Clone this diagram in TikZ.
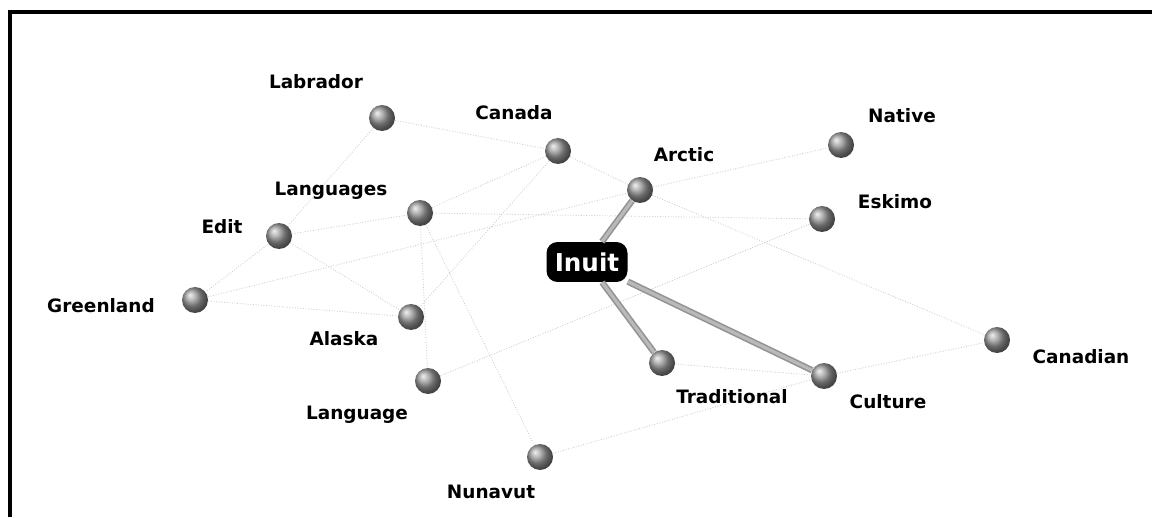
\documentclass[tikz,border=0pt]{standalone}
\usepackage{fontspec}
\setmainfont{DejaVu Sans}
\usepackage{xcolor}
\usepackage{tikz}
\usetikzlibrary{backgrounds}

\begin{document}
\begin{tikzpicture}[
    x=0.02cm,y=-0.02cm,
    ball/.style={circle,minimum size=0.52cm,inner sep=0pt,shading=ball,ball color=gray!80},
    lbl/.style={font=\fontsize{10.5}{12}\selectfont\bfseries,inner sep=1pt},
    hub/.style={fill=black,text=white,rounded corners=0.22cm,minimum width=1.62cm,
                minimum height=0.8cm,inner sep=2pt,font=\fontsize{14}{16}\selectfont\bfseries},
    weak/.style={gray!40,densely dotted,line width=0.5pt},
    strong/.style={draw=gray!85,double=gray!55,double distance=1.8pt,line width=0.9pt}
  ]
  \useasboundingbox (0,0) rectangle (1152,517);
  \draw[line width=2.2pt] (10,517) -- (10,12) -- (1152,12);
  % Terms
  \node[hub] (inu) at (587,262) {Inuit};
  \node[ball] (lab) at (382,118) {};
  \node[ball] (can) at (558,151) {};
  \node[ball] (arc) at (640,190) {};
  \node[ball] (nat) at (841,145) {};
  \node[ball] (esk) at (822,219) {};
  \node[ball] (lgs) at (420,213) {};
  \node[ball] (edi) at (279,236) {};
  \node[ball] (gre) at (195,300) {};
  \node[ball] (ala) at (411,317) {};
  \node[ball] (lng) at (428,381) {};
  \node[ball] (nun) at (540,457) {};
  \node[ball] (tra) at (662,363) {};
  \node[ball] (cul) at (824,376) {};
  \node[ball] (cnd) at (997,340) {};
  % Labels
  \node[lbl] (lab-t) at (316,82)  {Labrador};
  \node[lbl] (can-t) at (514,113) {Canada};
  \node[lbl] (arc-t) at (684,155) {Arctic};
  \node[lbl] (nat-t) at (902,116) {Native};
  \node[lbl] (esk-t) at (895,202) {Eskimo};
  \node[lbl] (lgs-t) at (331,191) {Languages};
  \node[lbl] (edi-t) at (222,227) {Edit};
  \node[lbl] (gre-t) at (101,306) {Greenland};
  \node[lbl] (ala-t) at (344,339) {Alaska};
  \node[lbl] (lng-t) at (357,415) {Language};
  \node[lbl] (nun-t) at (491,492) {Nunavut};
  \node[lbl] (tra-t) at (732,397) {Traditional};
  \node[lbl] (cul-t) at (888,402) {Culture};
  \node[lbl] (cnd-t) at (1081,357) {Canadian};
  % Weak links
  \begin{scope}[on background layer]
    \foreach \a/\b in {lab/can,lab/edi,can/arc,can/lgs,can/ala,arc/nat,arc/cnd,
                       lgs/esk,lgs/lng,lgs/nun,edi/gre,edi/lgs,edi/ala,gre/ala,
                       gre/arc,lng/esk,nun/cul,tra/cul,cul/cnd}{
      \draw[weak] (\a) -- (\b);
    }
  \end{scope}
  % Strong links
  \draw[strong] (inu) -- (arc);
  \draw[strong] (inu) -- (tra);
  \draw[strong] (inu) -- (cul);
\end{tikzpicture}
\end{document}
